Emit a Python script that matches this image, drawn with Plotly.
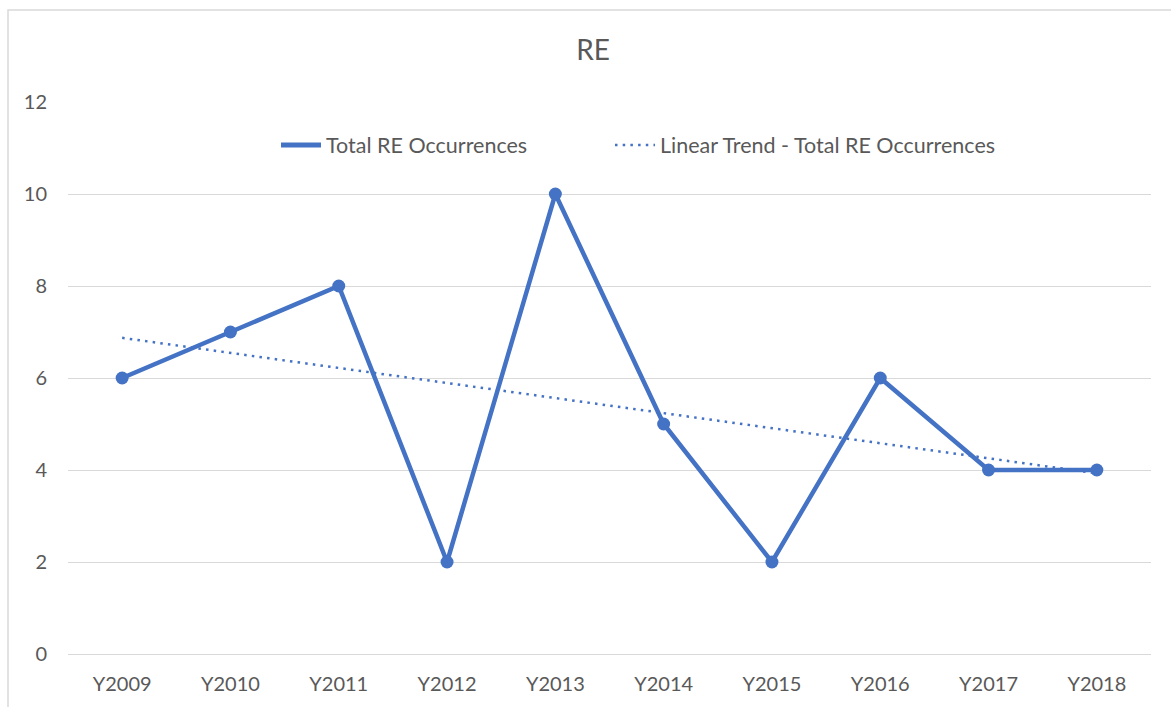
import numpy as np
import plotly.graph_objects as go

years = ["Y2009", "Y2010", "Y2011", "Y2012", "Y2013", "Y2014", "Y2015", "Y2016", "Y2017", "Y2018"]
occurrences = [6, 7, 8, 2, 10, 5, 2, 6, 4, 4]
y_ticks = [0, 2, 4, 6, 8, 10, 12]

# Excel-style linear trendline (least squares fit of the series)
idx = np.arange(len(occurrences))
slope, intercept = np.polyfit(idx, occurrences, 1)
trend = list(slope * idx + intercept)

BLUE = "#4472C4"
GREY_TXT = "#595959"
GRID = "#D9D9D9"
FONT = "Lato"

fig = go.Figure()
fig.add_trace(go.Scatter(
    x=years, y=occurrences, mode="lines+markers",
    name="Total RE Occurrences", showlegend=False,
    line=dict(color=BLUE, width=4.5),
    marker=dict(color=BLUE, size=13),
))
# legend-only entry (line without marker, as in the original legend)
fig.add_trace(go.Scatter(
    x=[years[0]], y=[None], mode="lines",
    name="Total RE Occurrences", legend="legend",
    line=dict(color=BLUE, width=5),
))
fig.add_trace(go.Scatter(
    x=years, y=trend, mode="lines",
    name="Linear Trend - Total RE Occurrences", legend="legend2",
    line=dict(color=BLUE, width=2.5, dash="2.5px,5.2px"),
))

legend_common = dict(orientation="h", xanchor="left", y=0.922, yanchor="middle",
                     font=dict(family=FONT, size=21.5, color=GREY_TXT),
                     bgcolor="rgba(0,0,0,0)", itemwidth=40)

fig.update_layout(
    width=1171, height=707,
    margin=dict(l=68, r=20, t=102, b=53, autoexpand=False),
    paper_bgcolor="white", plot_bgcolor="white",
    font=dict(family=FONT, color=GREY_TXT, size=20),
    title=dict(text="RE", x=593 / 1171, xanchor="center", y=1 - 50 / 707, yanchor="middle",
               font=dict(family=FONT, size=28, color=GREY_TXT)),
    showlegend=True,
    legend=dict(x=(276 - 68) / 1083, **legend_common),
    legend2=dict(x=(610 - 68) / 1083, **legend_common),
    xaxis=dict(type="category", range=[-0.5, 9.5], showgrid=False, showline=True,
               linecolor=GRID, linewidth=1, ticks="", ticklabelstandoff=12, automargin=False,
               tickfont=dict(family=FONT, size=20, color=GREY_TXT), zeroline=False,
               fixedrange=True),
    yaxis=dict(range=[0, 12], tickvals=y_ticks, showgrid=True, gridcolor=GRID, gridwidth=1,
               zeroline=False, showline=False, ticks="", ticklabelstandoff=20, automargin=False,
               tickfont=dict(family=FONT, size=20, color=GREY_TXT), fixedrange=True),
    shapes=[dict(type="rect", xref="paper", yref="paper",
                 x0=(8 - 68) / 1083, x1=1.2, y0=-0.5, y1=(654 - 10) / 552,
                 line=dict(color=GRID, width=1.5), fillcolor="rgba(0,0,0,0)", layer="below")],
)

fig.write_html("out.html", config={"displayModeBar": False},
               post_script="document.body.style.margin='0';document.body.style.overflow='hidden';")
